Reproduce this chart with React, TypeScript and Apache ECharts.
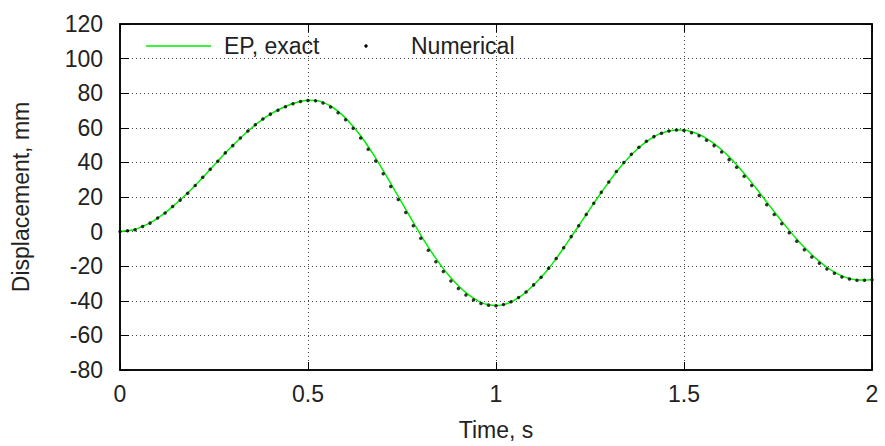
import React, { useEffect, useRef } from "react";
import * as echarts from "echarts";

// Sample step of both series (s)
const STEP = 0.02;

// Exact (elasto-plastic) displacement, mm, at t = 0, 0.02, ..., 2.00 s
const exactValues = [
  0, 0.5, 1.2, 3.0, 5.0, 7.8, 10.8, 14.5, 18.3, 22.3,
  26.6, 31.3, 36.0, 40.7, 45.4, 49.8, 54.0, 58.0, 61.7, 65.0,
  67.9, 70.3, 72.3, 74.0, 75.2, 75.9, 75.8, 74.7, 72.6, 69.5,
  65.6, 60.8, 55.4, 49.2, 42.5, 35.3, 27.9, 20.4, 12.8, 5.3,
  -2.0, -9.0, -15.5, -21.4, -26.7, -31.3, -35.3, -38.5, -40.9, -42.3,
  -42.7, -42.2, -40.7, -38.2, -34.9, -30.9, -26.4, -21.3, -15.6, -9.4,
  -3.0, 3.4, 9.9, 16.3, 22.6, 28.6, 34.4, 39.6, 44.4, 48.5,
  52.0, 54.8, 56.9, 58.2, 58.8, 58.7, 57.7, 56.1, 53.8, 50.9,
  47.3, 43.2, 38.6, 33.6, 28.3, 22.7, 17.1, 11.5, 6.0, 0.7,
  -4.4, -9.1, -13.4, -17.2, -20.6, -23.4, -25.6, -27.1, -27.9, -28.0,
  -27.7,
];

// Numerical displacement, mm, at t = 0, 0.02, ..., 2.00 s
const numericalValues = [
  0, 0.5, 1.1, 3.0, 4.9, 7.8, 10.7, 14.5, 18.2, 22.2,
  26.6, 31.4, 36.0, 40.7, 45.5, 49.7, 54.1, 58.1, 61.8, 65.1,
  67.9, 70.2, 72.2, 73.9, 75.2, 75.8, 75.6, 74.3, 72.0, 68.7,
  64.7, 59.7, 54.1, 47.6, 40.8, 33.5, 26.1, 18.6, 11.1, 3.4,
  -3.9, -10.8, -17.4, -23.1, -28.5, -32.9, -36.6, -39.5, -41.6, -42.5,
  -42.8, -42.1, -40.6, -38.1, -34.9, -30.8, -26.4, -21.2, -15.5, -9.3,
  -2.9, 3.4, 9.9, 16.4, 22.8, 28.7, 34.7, 39.9, 44.7, 48.7,
  52.2, 54.9, 56.8, 58.1, 58.7, 58.5, 57.2, 55.4, 52.8, 49.7,
  46.0, 41.6, 37.2, 32.0, 26.6, 20.9, 15.5, 9.9, 4.5, -0.7,
  -5.6, -10.5, -14.7, -18.3, -21.6, -24.1, -26.2, -27.4, -28.1, -28.1,
  -27.8,
];

const seriesNames = ["EP, exact", "Numerical"];
const xTitle = "Time, s";
const yTitle = "Displacement, mm";

const FONT = "Liberation Sans";
const TEXT = "#222";
const GREEN = "#00ee00";

export default function App() {
  const ref = useRef<HTMLDivElement>(null);

  useEffect(() => {
    if (!ref.current) return;
    const chart = echarts.init(ref.current, undefined, { renderer: "svg" });

    const exactData = exactValues.map((v, i) => [+(i * STEP).toFixed(2), v]);
    const numData = numericalValues.map((v, i) => [+(i * STEP).toFixed(2), v]);

    const gridLine = {
      show: true,
      lineStyle: { color: "#444", width: 1, type: [1, 3] as any },
    };

    const axisLine = { show: true, onZero: false, lineStyle: { color: "#000", width: 1.5 } };
    const tick = (len: number) => ({
      show: true,
      inside: true,
      length: len,
      lineStyle: { color: "#000", width: 1 },
    });

    const legendY = 46;
    const legendFont = { fontFamily: FONT, fontSize: 23, fill: TEXT };

    chart.setOption({
      animation: false,
      textStyle: { fontFamily: FONT },
      grid: {
        left: 120,
        right: 13,
        top: 24,
        bottom: 75,
        show: true,
        borderColor: "#000",
        borderWidth: 1.5,
        backgroundColor: "transparent",
      },
      graphic: [
        {
          type: "line",
          shape: { x1: 146, y1: legendY, x2: 211, y2: legendY },
          style: { stroke: GREEN, lineWidth: 1.5 },
          z: 10,
        },
        {
          type: "text",
          x: 224,
          y: legendY,
          style: { ...legendFont, text: seriesNames[0], textVerticalAlign: "middle", verticalAlign: "middle" },
          z: 10,
        },
        {
          type: "circle",
          shape: { cx: 366, cy: legendY, r: 1.7 },
          style: { fill: "#000" },
          z: 10,
        },
        {
          type: "text",
          x: 411,
          y: legendY,
          style: { ...legendFont, text: seriesNames[1], textVerticalAlign: "middle", verticalAlign: "middle" },
          z: 10,
        },
      ],
      xAxis: [
        {
          type: "value",
          min: 0,
          max: 2,
          interval: 0.5,
          name: xTitle,
          nameLocation: "middle",
          nameGap: 48,
          nameTextStyle: { fontFamily: FONT, fontSize: 23, color: TEXT },
          axisLine,
          axisTick: tick(8),
          axisLabel: { fontFamily: FONT, fontSize: 23, color: TEXT, margin: 12 },
          splitLine: gridLine,
        },
        {
          type: "value",
          position: "top",
          min: 0,
          max: 2,
          interval: 0.5,
          axisLine,
          axisTick: tick(8),
          axisLabel: { show: false },
          splitLine: { show: false },
        },
      ],
      yAxis: [
        {
          type: "value",
          min: -80,
          max: 120,
          interval: 20,
          name: yTitle,
          nameLocation: "middle",
          nameGap: 88,
          nameTextStyle: { fontFamily: FONT, fontSize: 23, color: TEXT },
          axisLine,
          axisTick: tick(9),
          axisLabel: { fontFamily: FONT, fontSize: 23, color: TEXT, margin: 17 },
          splitLine: gridLine,
        },
        {
          type: "value",
          position: "right",
          min: -80,
          max: 120,
          interval: 20,
          axisLine,
          axisTick: tick(9),
          axisLabel: { show: false },
          splitLine: { show: false },
        },
      ],
      series: [
        {
          name: seriesNames[0],
          type: "line",
          xAxisIndex: 0,
          yAxisIndex: 0,
          data: exactData,
          symbol: "none",
          showSymbol: false,
          smooth: 0.3,
          lineStyle: { color: GREEN, width: 1.5 },
          itemStyle: { color: GREEN },
          z: 2,
        },
        {
          name: seriesNames[1],
          type: "scatter",
          xAxisIndex: 0,
          yAxisIndex: 0,
          data: numData,
          symbol: "circle",
          symbolSize: 3.5,
          itemStyle: { color: "#000" },
          z: 3,
        },
      ],
    });

    return () => chart.dispose();
  }, []);

  return (
    <div
      ref={ref}
      style={{ position: "fixed", left: 0, top: 0, width: 885, height: 446, background: "#fff" }}
    />
  );
}
